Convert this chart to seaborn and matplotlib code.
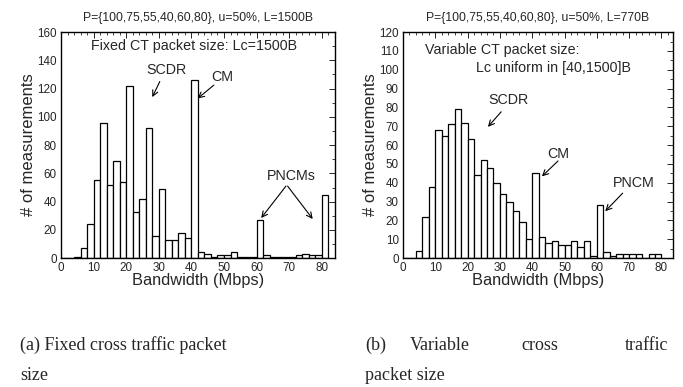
import numpy as np
import matplotlib
matplotlib.use("Agg")
import matplotlib.pyplot as plt
from matplotlib.ticker import MultipleLocator
import seaborn as sns

# bin edges (Mbps), width 2
edges_a = list(range(0, 84, 2))
edges_b = list(range(0, 82, 2))

# counts per bin, panel (a): fixed CT packet size
counts_a = [0, 0, 1, 7, 24, 55, 96, 52, 69, 54,
            122, 33, 42, 92, 16, 49, 13, 13, 18, 14,
            126, 4, 3, 1, 2, 2, 4, 1, 1, 1,
            27, 2, 1, 1, 1, 1, 2, 3, 2, 2,
            45]

# counts per bin, panel (b): variable CT packet size
counts_b = [0, 0, 4, 22, 38, 68, 65, 71, 79, 72,
            63, 44, 52, 48, 40, 34, 30, 25, 19, 10,
            45, 11, 8, 9, 7, 7, 9, 6, 9, 1,
            28, 3, 1, 2, 2, 2, 2, 0, 2, 2]

titles = ["P={100,75,55,40,60,80}, u=50%, L=1500B",
          "P={100,75,55,40,60,80}, u=50%, L=770B"]

sns.set_style("white")
plt.rcParams["font.family"] = ["Liberation Sans", "DejaVu Sans"]

fig = plt.figure(figsize=(6.83, 3.87), dpi=100)
ax_a = fig.add_axes([0.0893, 0.333, 0.401, 0.584])
ax_b = fig.add_axes([0.590, 0.333, 0.395, 0.584])

ANN = 10.3


def draw_hist(ax, edges, counts, xmax, ymax, ystep, title):
    centers = [e + 1 for e in edges[:-1]]
    sns.histplot(x=centers, weights=counts, bins=edges, ax=ax,
                 color="white", edgecolor="black", linewidth=0.9, alpha=1)
    ax.set_xlim(0, xmax)
    ax.set_ylim(0, ymax)
    ax.xaxis.set_major_locator(MultipleLocator(10))
    ax.yaxis.set_major_locator(MultipleLocator(ystep))
    ax.xaxis.set_minor_locator(MultipleLocator(2))
    ax.yaxis.set_minor_locator(MultipleLocator(ystep / 2))
    ax.tick_params(which="both", direction="in", top=True, right=True,
                   labelsize=8.4, pad=3)
    ax.tick_params(which="major", length=4, width=0.7)
    ax.tick_params(which="minor", length=2, width=0.6)
    for s in ax.spines.values():
        s.set_linewidth(1.0)
        s.set_color("black")
    ax.set_title(title, fontsize=8.8, pad=8)
    ax.set_xlabel("Bandwidth (Mbps)", fontsize=11.8, labelpad=-1)
    ax.set_ylabel("# of measurements", fontsize=12, labelpad=1)


draw_hist(ax_a, edges_a, counts_a, 84, 160, 20, titles[0])
draw_hist(ax_b, edges_b, counts_b, 83.5, 120, 10, titles[1])

arrow = dict(arrowstyle="->", color="black", lw=0.8, shrinkA=0, shrinkB=0)

# panel (a) annotations
ax_a.text(40.9, 150, "Fixed CT packet size: Lc=1500B", ha="center", va="center", fontsize=ANN)
ax_a.text(32.3, 133, "SCDR", ha="center", va="center", fontsize=ANN)
ax_a.annotate("", xy=(28, 114), xytext=(30.3, 125), arrowprops=arrow)
ax_a.text(49.4, 128, "CM", ha="center", va="center", fontsize=ANN)
ax_a.annotate("", xy=(41.9, 113), xytext=(46.9, 122.5), arrowprops=arrow)
ax_a.text(70.5, 58, "PNCMs", ha="center", va="center", fontsize=ANN)
ax_a.annotate("", xy=(61.4, 28.4), xytext=(69, 51), arrowprops=arrow)
ax_a.annotate("", xy=(77.2, 27.7), xytext=(69.5, 51), arrowprops=arrow)

# panel (b) annotations
ax_b.text(6.7, 110.6, "Variable CT packet size:", ha="left", va="center", fontsize=ANN)
ax_b.text(22.7, 100.8, "Lc uniform in [40,1500]B", ha="left", va="center", fontsize=ANN)
ax_b.text(32.5, 84, "SCDR", ha="center", va="center", fontsize=ANN)
ax_b.annotate("", xy=(26.3, 69.7), xytext=(30.4, 77.7), arrowprops=arrow)
ax_b.text(48.2, 55.5, "CM", ha="center", va="center", fontsize=ANN)
ax_b.annotate("", xy=(43, 43.4), xytext=(48, 51.6), arrowprops=arrow)
ax_b.text(71.4, 39.8, "PNCM", ha="center", va="center", fontsize=ANN)
ax_b.annotate("", xy=(62.6, 24.9), xytext=(68, 34.5), arrowprops=arrow)

# sub-figure captions
cap = dict(fontsize=13, family=["Liberation Serif", "DejaVu Serif"], va="center")
fig.text(20 / 683, 1 - 345 / 387, "(a) Fixed cross traffic packet", ha="left", **cap)
fig.text(20 / 683, 1 - 375 / 387, "size", ha="left", **cap)
fig.text(365 / 683, 1 - 345 / 387, "(b)", ha="left", **cap)
fig.text(440 / 683, 1 - 345 / 387, "Variable", ha="center", **cap)
fig.text(540 / 683, 1 - 345 / 387, "cross", ha="center", **cap)
fig.text(668 / 683, 1 - 345 / 387, "traffic", ha="right", **cap)
fig.text(365 / 683, 1 - 375 / 387, "packet size", ha="left", **cap)

fig.savefig("out.png", dpi=100)
